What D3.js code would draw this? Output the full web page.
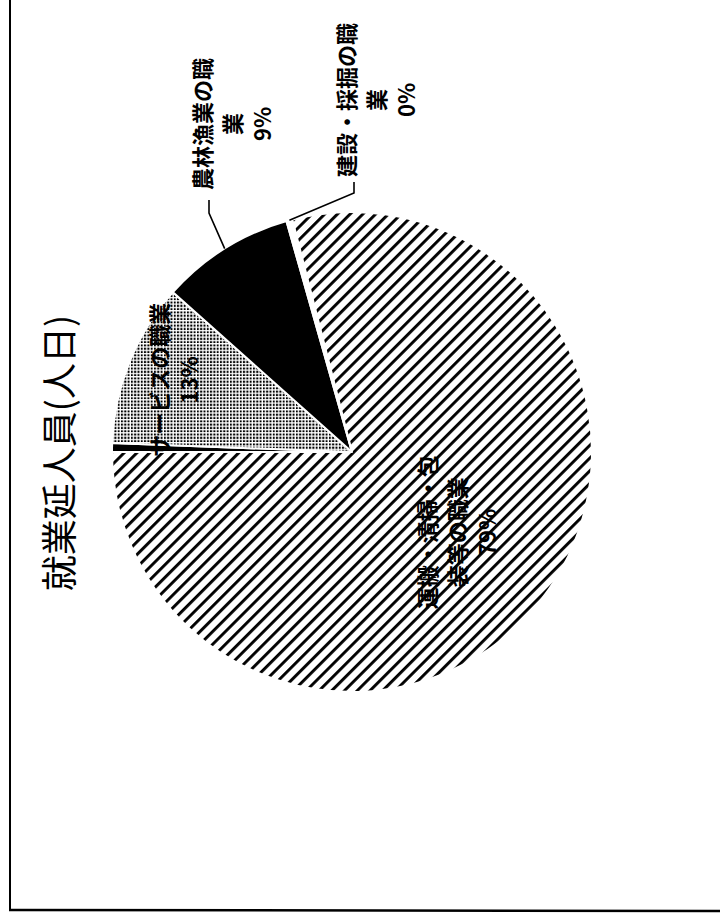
<!DOCTYPE html>
<html>
<head>
<meta charset="utf-8">
<script src="https://cdn.jsdelivr.net/npm/d3@7"></script>
<style>
  html, body { margin: 0; padding: 0; background: #fff; }
  svg { display: block; }
  text { font-family: "Noto Sans CJK JP", "Noto Sans", sans-serif; fill: #000; }
</style>
</head>
<body>
<svg id="chart" width="720" height="918"></svg>
<script>
// ---------------- data ----------------
const title = "就業延人員(人日)";
const categories = ["その他", "サービスの職業", "農林漁業の職業", "建設・採掘の職業", "運搬・清掃・包装等の職業"];
const values = [0.6, 11.0, 9.0, 0.4, 79.0];
const pctLabels = ["", "13%", "9%", "0%", "79%"];
const labelLines = [[], ["サービスの職業"], ["農林漁業の職", "業"], ["建設・採掘の職", "業"], ["運搬・清掃・包", "装等の職業"]];

// ---------------- layout ----------------
const W = 720, H = 918;
const svg = d3.select("#chart");

// patterns
const defs = svg.append("defs");
const hatch = defs.append("pattern").attr("id", "hatch")
  .attr("patternUnits", "userSpaceOnUse").attr("width", 9).attr("height", 9)
  .attr("patternTransform", "rotate(45)");
hatch.append("rect").attr("width", 9).attr("height", 9).attr("fill", "#fff");
hatch.append("rect").attr("y", 0).attr("width", 9).attr("height", 2.9).attr("fill", "#000");

const dots = defs.append("pattern").attr("id", "dots")
  .attr("patternUnits", "userSpaceOnUse").attr("width", 3.3).attr("height", 3.3);
dots.append("rect").attr("width", 3.3).attr("height", 3.3).attr("fill", "#fff");
dots.append("rect").attr("width", 2.0).attr("height", 2.0).attr("fill", "#000");

const fills = ["#000", "url(#dots)", "#000", "#fff", "url(#hatch)"];

// frame (left and bottom edges of the scanned page)
svg.append("line").attr("x1", 10).attr("y1", 0).attr("x2", 10).attr("y2", 911)
  .attr("stroke", "#000").attr("stroke-width", 2);
svg.append("line").attr("x1", 9).attr("y1", 910).attr("x2", W).attr("y2", 911)
  .attr("stroke", "#000").attr("stroke-width", 2.5);

// the chart itself is printed sideways: draw it in a landscape frame rotated -90deg
const g = svg.append("g").attr("transform", `translate(0,${H}) rotate(-90)`);

// title
g.append("text").attr("x", 465).attr("y", 57)
  .attr("text-anchor", "middle").attr("dominant-baseline", "central")
  .attr("font-size", 36).text(title);

const cx = 466, cy = 352, R = 240;
const data = categories.map((c, i) => ({ name: c, value: values[i], pct: pctLabels[i], lines: labelLines[i], fill: fills[i] }));
const pie = d3.pie().sort(null).value(d => d.value).startAngle(0).endAngle(2 * Math.PI);
const arcs = pie(data);
const arc = d3.arc().innerRadius(0).outerRadius(R);

const pg = g.append("g").attr("transform", `translate(${cx},${cy})`);
pg.selectAll("path.slice").data(arcs).join("path")
  .attr("class", "slice")
  .attr("d", arc)
  .attr("fill", d => d.data.fill)
  .attr("stroke", "#fff")
  .attr("stroke-width", 2)
  .attr("stroke-linejoin", "round");

// labels
const fs = 22, lh = 30;
function drawLabel(x, y, lines) {
  const t = g.append("text").attr("text-anchor", "middle").attr("dominant-baseline", "central")
    .attr("font-size", fs).attr("font-weight", 700);
  lines.forEach((s, k) => {
    t.append("tspan").attr("x", x).attr("y", y + k * lh).text(s);
  });
}
const midA = d => (d.startAngle + d.endAngle) / 2;
const pt = (a, r) => [cx + r * Math.sin(a), cy - r * Math.cos(a)];

// inside labels (placed along the slice's mid angle)
const insideR = { 1: 193, 4: 131 };
Object.keys(insideR).forEach(k => {
  const d = arcs[+k];
  const lines = d.data.lines.concat([d.data.pct]);
  const [x, y] = pt(midA(d), insideR[k]);
  drawLabel(x, y - (lines.length - 1) * lh / 2, lines);
});

// outside labels with leader lines
const outside = [
  { i: 2, x: 794, y: 201, lx: 718, ly: 209, ex: 705 },
  { i: 3, x: 818, y: 345, lx: 736, ly: 354, ex: 725 }
];
outside.forEach(o => {
  const d = arcs[o.i];
  drawLabel(o.x, o.y, d.data.lines.concat([d.data.pct]));
  const [ax, ay] = pt(midA(d), R);
  g.append("polyline")
    .attr("points", `${o.lx},${o.ly} ${o.ex},${o.ly} ${ax},${ay}`)
    .attr("fill", "none").attr("stroke", "#000").attr("stroke-width", 1.6);
});
</script>
</body>
</html>
